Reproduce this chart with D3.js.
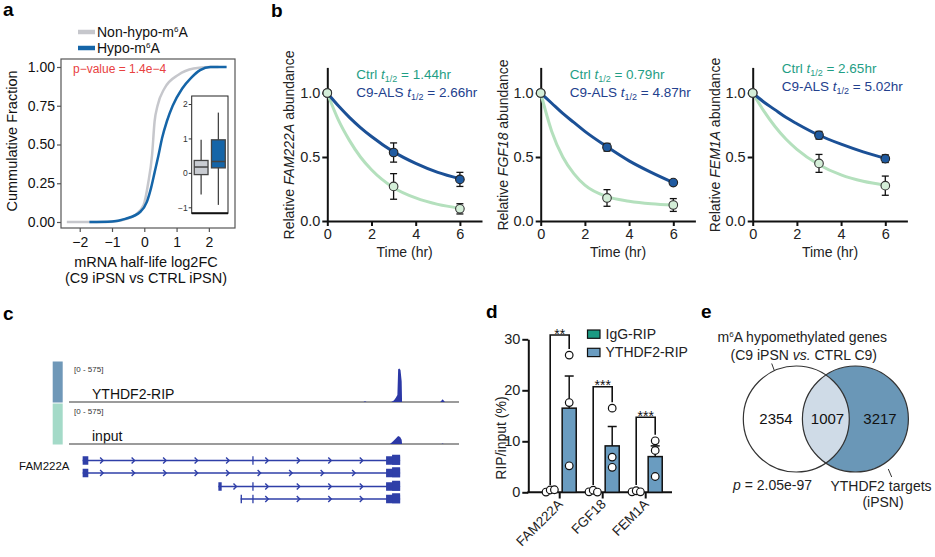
<!DOCTYPE html>
<html><head><meta charset="utf-8">
<script src="https://cdn.jsdelivr.net/npm/d3@7"></script>
<style>body{margin:0;background:#fff}svg{display:block}</style>
</head><body><svg id="c" width="935" height="557"></svg>
<script>
// ---------------- DATA ----------------
// panel a: cumulative distributions
const cdfNonHypoX = [-2.4, -1.2, -0.74, -0.28, -0.02, 0.12, 0.24, 0.32, 0.41, 0.62, 1.06, 1.53, 2.0, 2.3];
const cdfNonHypoF = [0, 0, 0.01, 0.045, 0.11, 0.25, 0.43, 0.65, 0.75, 0.86, 0.95, 0.99, 1.0, 1.0];
const cdfHypoX = [-1.7, -1.0, -0.59, -0.12, 0.08, 0.21, 0.32, 0.44, 0.55, 0.70, 0.88, 1.17, 1.45, 1.73, 2.05, 2.55];
const cdfHypoF = [0, 0.003, 0.02, 0.066, 0.13, 0.22, 0.32, 0.43, 0.54, 0.65, 0.75, 0.86, 0.93, 0.98, 1.0, 1.0];
const legendA = ["Non-hypo-m", "Hypo-m"];
const pValueA = "p\u2212value = 1.4e\u22124";
const boxGroups = ["Non-hypo", "Hypo"];
const boxNonHypo = [-0.63, -0.05, 0.17, 0.36, 0.96]; // min, q1, median, q3, max
const boxHypo = [-0.93, 0.145, 0.33, 0.96, 1.75];
const aTicksX = [-2, -1, 0, 1, 2];
const aTicksY = [0, 0.25, 0.5, 0.75, 1];
const insetTicks = [-1, 0, 1, 2];

// panel b: mRNA decay
const decayGenes = ["FAM222A", "FGF18", "FEM1A"];
const halfCtrl = ["1.44", "0.79", "2.65"];
const halfC9 = ["2.66", "4.87", "5.02"];
const sampleTimes = [0, 3, 6];
const ctrlMean = [[1, 0.27, 0.095], [1, 0.18, 0.125], [1, 0.45, 0.276]];
const ctrlErr = [[0, 0.10, 0.04], [0, 0.065, 0.05], [0, 0.07, 0.075]];
const c9Mean = [[1, 0.535, 0.325], [1, 0.576, 0.30], [1, 0.67, 0.487]];
const c9Err = [[0, 0.075, 0.055], [0, 0.03, 0.015], [0, 0.03, 0.03]];
const fitTimes = [0, 0.5, 1, 1.5, 2, 3, 4, 5, 6];
const ctrlFit = [
  [1, 0.79, 0.63, 0.50, 0.40, 0.26, 0.18, 0.13, 0.10],
  [1, 0.70, 0.50, 0.37, 0.28, 0.19, 0.155, 0.135, 0.125],
  [1, 0.86, 0.74, 0.64, 0.56, 0.44, 0.36, 0.31, 0.28]];
const c9Fit = [
  [1, 0.90, 0.81, 0.73, 0.66, 0.54, 0.45, 0.38, 0.33],
  [1, 0.92, 0.84, 0.77, 0.70, 0.58, 0.47, 0.38, 0.30],
  [1, 0.93, 0.87, 0.81, 0.76, 0.67, 0.60, 0.54, 0.49]];
const bTicksX = [0, 2, 4, 6];
const bTicksY = [0, 0.5, 1.0];

// panel c: coverage tracks (genomic position 0-1000, reads 0-575)
const trackNames = ["YTHDF2-RIP", "input"];
const trackRange = "[0 - 575]";
const ripPos = [0, 755, 759, 763, 826, 833, 838, 842, 844, 847, 850, 853, 854, 952, 958, 964, 1000];
const ripVal = [0, 0, 12, 0, 0, 20, 60, 100, 470, 480, 460, 300, 0, 0, 40, 0, 0];
const inputPos = [0, 823, 831, 838, 844, 849, 853, 854, 955, 958, 961, 1000];
const inputVal = [0, 0, 40, 80, 115, 100, 60, 0, 0, 8, 0, 0];
const geneName = "FAM222A";
const txStart = [35, 35, 383, 440];
const txEnd = [849, 849, 849, 849];
const txExons = [
  [[35, 49.5], [470, 473], [813, 849]],
  [[35, 49.5], [813, 849]],
  [[383, 391.5], [470, 473], [813, 849]],
  [[440, 443.5], [470, 473], [813, 849]]];

// panel d: RIP-qPCR
const ripGenes = ["FAM222A", "FGF18", "FEM1A"];
const ripConds = ["IgG-RIP", "YTHDF2-RIP"];
const igGMean = [0.3, 0.25, 0.2];
const igGDots = [[0.05, 0.45, 0.5], [0.1, 0.4, 0.05], [0.1, 0.3, 0.1]];
const ythMean = [16.5, 9.1, 7.0];
const ythSem = [6.3, 3.8, 2.1];
const ythDots = [[26.9, 17.6, 5.2], [16.5, 6.9, 4.9], [10.1, 8.2, 3.1]];
const sigLabels = ["**", "***", "***"];
const dTicksY = [0, 10, 20, 30];

// panel e: Venn
const vennCounts = [2354, 1007, 3217];
const vennP = "2.05e-97";

// ---------------- DRAW ----------------
const FONT = '"Liberation Sans", Arial, Helvetica, sans-serif';
const svg = d3.select("#c").attr("font-family", FONT);
svg.append("rect").attr("width", 935).attr("height", 557).attr("fill", "#fff");
const minus = d => (d < 0 ? "\u2212" + Math.abs(d) : String(d));

function panelLabel(t, x, y) {
  svg.append("text").attr("x", x).attr("y", y).attr("font-size", 19)
    .attr("font-weight", "bold").attr("fill", "#000").text(t);
}
panelLabel("a", 3, 16); panelLabel("b", 271, 17); panelLabel("c", 3, 320);
panelLabel("d", 486, 318); panelLabel("e", 701, 318);

// ===== Panel a =====
(function () {
  const g = svg.append("g");
  const x = d3.scaleLinear().domain([-2.58, 2.81]).range([61, 235]);
  const y = d3.scaleLinear().domain([0, 1]).range([222, 67]);
  g.append("rect").attr("x", 61).attr("y", 59).attr("width", 174).attr("height", 169)
    .attr("fill", "#fff").attr("stroke", "#555").attr("stroke-width", 1.2);
  const line = d3.line().x(d => x(d[0])).y(d => y(d[1])).curve(d3.curveMonotoneX);
  g.append("path").attr("d", line(d3.zip(cdfNonHypoX, cdfNonHypoF)))
    .attr("fill", "none").attr("stroke", "#c6c7cc").attr("stroke-width", 2.5);
  g.append("path").attr("d", line(d3.zip(cdfHypoX, cdfHypoF)))
    .attr("fill", "none").attr("stroke", "#1565a8").attr("stroke-width", 2.5);
  const ya = g.append("g").attr("transform", "translate(61,0)")
    .call(d3.axisLeft(y).tickValues(aTicksY).tickFormat(d3.format(".2f")).tickSize(4).tickSizeOuter(0));
  const xa = g.append("g").attr("transform", "translate(0,228)")
    .call(d3.axisBottom(x).tickValues(aTicksX).tickFormat(minus).tickSize(4).tickSizeOuter(0));
  [ya, xa].forEach(a => {
    a.select(".domain").remove();
    a.selectAll("line").attr("stroke", "#555").attr("stroke-width", 1.2);
    a.selectAll("text").attr("font-size", 14).attr("fill", "#111").attr("font-family", FONT);
  });
  ya.selectAll("text").attr("x", -6);
  xa.selectAll("text").attr("y", 9);
  g.append("text").attr("transform", "translate(17,141) rotate(-90)").attr("text-anchor", "middle")
    .attr("font-size", 14.5).attr("fill", "#111").text("Cummulative Fraction");
  g.append("text").attr("x", 146).attr("y", 267).attr("text-anchor", "middle")
    .attr("font-size", 14.5).attr("fill", "#111").text("mRNA half-life log2FC");
  g.append("text").attr("x", 146).attr("y", 283).attr("text-anchor", "middle")
    .attr("font-size", 14.5).attr("fill", "#111").text("(C9 iPSN vs CTRL iPSN)");
  g.append("text").attr("x", 73).attr("y", 73).attr("font-size", 12).attr("fill", "#e8413f").text(pValueA);
  const legCol = ["#c6c7cc", "#1565a8"];
  legendA.forEach((t, i) => {
    const yy = 32 + i * 16;
    g.append("line").attr("x1", 78).attr("x2", 95).attr("y1", yy).attr("y2", yy)
      .attr("stroke", legCol[i]).attr("stroke-width", 4.5);
    const tx = g.append("text").attr("x", 97).attr("y", yy + 5).attr("font-size", 14).attr("fill", "#111");
    tx.append("tspan").text(t);
    tx.append("tspan").attr("dy", -5).attr("font-size", 8).text("6");
    tx.append("tspan").attr("dy", 5).text("A");
  });
  // inset boxplot
  const iy = d3.scaleLinear().domain([-1, 2]).range([207.3, 104]);
  const ib = d3.scaleBand().domain(boxGroups).range([192.5, 227]).paddingInner(0.2).paddingOuter(0.1);
  g.append("rect").attr("x", 191.7).attr("y", 96).attr("width", 36.3).attr("height", 117.3)
    .attr("fill", "#fff").attr("stroke", "#222").attr("stroke-width", 1);
  g.append("line").attr("x1", 191.7).attr("x2", 228).attr("y1", 213.3).attr("y2", 213.3)
    .attr("stroke", "#111").attr("stroke-width", 2);
  const ia = g.append("g").attr("transform", "translate(191.7,0)")
    .call(d3.axisLeft(iy).tickValues(insetTicks).tickFormat(minus).tickSize(3).tickSizeOuter(0));
  ia.select(".domain").remove();
  ia.selectAll("line").attr("stroke", "#333");
  ia.selectAll("text").attr("font-size", 8.5).attr("fill", "#333").attr("font-family", FONT).attr("x", -4);
  const boxData = [boxNonHypo, boxHypo];
  const boxFill = ["#c9ccd2", "#1565a8"];
  boxGroups.forEach((k, i) => {
    const s = boxData[i], bx = ib(k), bw = ib.bandwidth(), cx = bx + bw / 2;
    g.append("line").attr("x1", cx).attr("x2", cx).attr("y1", iy(s[0])).attr("y2", iy(s[4]))
      .attr("stroke", "#444").attr("stroke-width", 1.3);
    g.append("rect").attr("x", bx).attr("y", iy(s[3])).attr("width", bw).attr("height", iy(s[1]) - iy(s[3]))
      .attr("fill", boxFill[i]).attr("stroke", "#444").attr("stroke-width", 1.3);
    g.append("line").attr("x1", bx).attr("x2", bx + bw).attr("y1", iy(s[2])).attr("y2", iy(s[2]))
      .attr("stroke", "#444").attr("stroke-width", 1.5);
  });
})();

// ===== Panel b =====
const ctrlTextCol = "#1f9e85", c9TextCol = "#22408d";
const axis0 = [327.3, 540.7, 752.7];
decayGenes.forEach((gene, i) => {
  const g = svg.append("g");
  const x0 = axis0[i];
  const x = d3.scaleLinear().domain([0, 7]).range([x0, x0 + 22.1 * 7]);
  const y = d3.scaleLinear().domain([0, 1.2]).range([221, 67.4]);
  const xa = g.append("g").attr("transform", "translate(0,221)")
    .call(d3.axisBottom(x).tickValues(bTicksX).tickFormat(d3.format("d")).tickSize(5).tickSizeOuter(0));
  const ya = g.append("g").attr("transform", `translate(${x0},0)`)
    .call(d3.axisLeft(y).tickValues(bTicksY).tickFormat(d3.format(".1f")).tickSize(5).tickSizeOuter(0));
  [xa, ya].forEach(a => {
    a.select(".domain").attr("stroke", "#111").attr("stroke-width", 2);
    a.selectAll("line").attr("stroke", "#111").attr("stroke-width", 2);
    a.selectAll("text").attr("font-size", 14.5).attr("fill", "#222").attr("font-family", FONT);
  });
  xa.selectAll("text").attr("y", 7.5);
  ya.selectAll("text").attr("x", -7);
  g.append("text").attr("x", x(3.5)).attr("y", 257).attr("text-anchor", "middle")
    .attr("font-size", 14).attr("fill", "#222").text("Time (hr)");
  const yl = g.append("text").attr("transform", `translate(${x0 - 33},145) rotate(-90)`)
    .attr("text-anchor", "middle").attr("font-size", 14).attr("fill", "#222");
  yl.append("tspan").text("Relative ");
  yl.append("tspan").attr("font-style", "italic").text(gene);
  yl.append("tspan").text(" abundance");
  const ln = d3.line().x(d => x(d[0])).y(d => y(d[1])).curve(d3.curveMonotoneX);
  g.append("path").attr("d", ln(d3.zip(fitTimes, ctrlFit[i]))).attr("fill", "none")
    .attr("stroke", "#b4e0bd").attr("stroke-width", 3);
  g.append("path").attr("d", ln(d3.zip(fitTimes, c9Fit[i]))).attr("fill", "none")
    .attr("stroke", "#1b5096").attr("stroke-width", 3);
  const drawErr = (m, e) => sampleTimes.forEach((t, j) => {
    if (e[j] <= 0) return;
    const cx = x(t);
    g.append("line").attr("x1", cx).attr("x2", cx).attr("y1", y(m[j] - e[j])).attr("y2", y(m[j] + e[j]))
      .attr("stroke", "#111").attr("stroke-width", 1.3);
    [m[j] - e[j], m[j] + e[j]].forEach(v => g.append("line").attr("x1", cx - 3.5).attr("x2", cx + 3.5)
      .attr("y1", y(v)).attr("y2", y(v)).attr("stroke", "#111").attr("stroke-width", 1.3));
  });
  drawErr(c9Mean[i], c9Err[i]); drawErr(ctrlMean[i], ctrlErr[i]);
  sampleTimes.forEach((t, j) => g.append("circle").attr("cx", x(t)).attr("cy", y(c9Mean[i][j])).attr("r", 4.3)
    .attr("fill", "#1f5aa0").attr("stroke", "#222").attr("stroke-width", 1.1));
  sampleTimes.forEach((t, j) => g.append("circle").attr("cx", x(t)).attr("cy", y(ctrlMean[i][j])).attr("r", 4.3)
    .attr("fill", "#d4eed8").attr("stroke", "#333").attr("stroke-width", 1.1));
  const ann = (label, val, col, yy) => {
    const t = g.append("text").attr("x", x0 + 29).attr("y", yy).attr("font-size", 13.5).attr("fill", col);
    t.append("tspan").text(label + " ");
    t.append("tspan").attr("font-style", "italic").text("t");
    t.append("tspan").attr("dy", 3).attr("font-size", 9).text("1/2");
    t.append("tspan").attr("dy", -3).text(" = " + val + "hr");
  };
  const yOff = i === 2 ? -6 : 0;
  ann("Ctrl", halfCtrl[i], ctrlTextCol, 79 + yOff);
  ann("C9-ALS", halfC9[i], c9TextCol, 97 + yOff);
});

// ===== Panel c =====
(function () {
  const g = svg.append("g");
  const gx = d3.scaleLinear().domain([0, 1000]).range([69, 459]);
  const tracks = [
    { name: trackNames[0], pos: ripPos, val: ripVal, base: 402, col: "#6f98b8" },
    { name: trackNames[1], pos: inputPos, val: inputVal, base: 444, col: "#a4dac8" }];
  tracks.forEach(tr => {
    const ty = d3.scaleLinear().domain([0, 575]).range([tr.base, tr.base - 40]);
    g.append("rect").attr("x", 52.7).attr("y", tr.base - 40.5).attr("width", 10).attr("height", 41)
      .attr("fill", tr.col);
    g.append("text").attr("x", 74).attr("y", tr.base - 30.5).attr("font-size", 8).attr("fill", "#333").text(trackRange);
    g.append("text").attr("x", 92).attr("y", tr.base - 3).attr("font-size", 14).attr("fill", "#111").text(tr.name);
    g.append("line").attr("x1", 69).attr("x2", 459).attr("y1", tr.base).attr("y2", tr.base)
      .attr("stroke", "#7a7a7a").attr("stroke-width", 1.5);
    const area = d3.area().x(d => gx(d[0])).y0(tr.base).y1(d => ty(d[1]));
    g.append("path").attr("d", area(d3.zip(tr.pos, tr.val))).attr("fill", "#2c38a6");
  });
  g.append("text").attr("x", 19).attr("y", 470).attr("font-size", 11.5).attr("fill", "#111").text(geneName);
  const gc = "#2f3fa8";
  const rowY = [460.5, 473, 486.5, 499];
  txStart.forEach((s, r) => {
    const yy = rowY[r];
    g.append("line").attr("x1", gx(s)).attr("x2", gx(txEnd[r])).attr("y1", yy).attr("y2", yy)
      .attr("stroke", gc).attr("stroke-width", 1.6);
    const ex = txExons[r];
    for (let e = 0; e < ex.length - 1; e++) {
      const a = gx(ex[e][1]), b = gx(ex[e + 1][0]);
      for (let p = a + 13.3; p < b - 8; p += 31.5) {
        g.append("path").attr("d", `M${p - 1.5},${yy - 3}L${p + 1.5},${yy}L${p - 1.5},${yy + 3}`)
          .attr("fill", "none").attr("stroke", gc).attr("stroke-width", 1.4);
      }
    }
    ex.forEach((e, j) => {
      const last = j === ex.length - 1;
      const h = 8.5;
      g.append("rect").attr("x", gx(e[0])).attr("y", yy - h / 2).attr("width", Math.max(1.3, gx(e[1]) - gx(e[0])))
        .attr("height", h).attr("fill", gc);
      if (last) {
        g.append("rect").attr("x", gx(e[0]) + 6).attr("y", yy - h / 2 - 1.5)
          .attr("width", gx(e[1]) - gx(e[0]) - 6).attr("height", h + 1.5).attr("fill", gc);
      }
    });
  });
})();

// ===== Panel d =====
(function () {
  const g = svg.append("g");
  const y = d3.scaleLinear().domain([0, 30]).range([492.3, 339.3]);
  const gxs = d3.scaleBand().domain(ripGenes).range([538.2, 667.2]);
  const sub = d3.scaleBand().domain(ripConds).range([gxs.bandwidth() / 2 - 19, gxs.bandwidth() / 2 + 19])
    .paddingInner(0.26).paddingOuter(0.13);
  const colIgG = "#1a9a82", colY = "#6a9cc0";
  const ya = g.append("g").attr("transform", "translate(528.3,0)")
    .call(d3.axisLeft(y).tickValues(dTicksY).tickSize(6).tickSizeOuter(0));
  ya.select(".domain").attr("stroke", "#111").attr("stroke-width", 2);
  ya.selectAll("line").attr("stroke", "#111").attr("stroke-width", 2);
  ya.selectAll("text").attr("font-size", 14.5).attr("fill", "#222").attr("font-family", FONT).attr("x", -8);
  g.append("line").attr("x1", 527.3).attr("x2", 672).attr("y1", 492.3).attr("y2", 492.3)
    .attr("stroke", "#111").attr("stroke-width", 2);
  g.append("text").attr("transform", "translate(506,438) rotate(-90)").attr("text-anchor", "middle")
    .attr("font-size", 14).attr("fill", "#222").text("RIP/input (%)");
  ripGenes.forEach((gn, i) => {
    const gc = gxs(gn) + gxs.bandwidth() / 2;
    g.append("line").attr("x1", gc).attr("x2", gc).attr("y1", 492.3).attr("y2", 498.5)
      .attr("stroke", "#111").attr("stroke-width", 2);
    g.append("text").attr("transform", `translate(${gc + 4},505) rotate(-45)`).attr("text-anchor", "end")
      .attr("font-size", 13.5).attr("fill", "#222").text(gn);
    const xi = gxs(gn) + sub("IgG-RIP"), xy = gxs(gn) + sub("YTHDF2-RIP"), bw = sub.bandwidth();
    g.append("rect").attr("x", xi).attr("y", y(igGMean[i])).attr("width", bw).attr("height", y(0) - y(igGMean[i]))
      .attr("fill", colIgG).attr("stroke", "#111").attr("stroke-width", 1.5);
    g.append("rect").attr("x", xy).attr("y", y(ythMean[i])).attr("width", bw).attr("height", y(0) - y(ythMean[i]))
      .attr("fill", colY).attr("stroke", "#111").attr("stroke-width", 1.5);
    const cy = xy + bw / 2, ci = xi + bw / 2;
    g.append("line").attr("x1", cy).attr("x2", cy).attr("y1", y(ythMean[i])).attr("y2", y(ythMean[i] + ythSem[i]))
      .attr("stroke", "#111").attr("stroke-width", 1.5);
    g.append("line").attr("x1", cy - 4.5).attr("x2", cy + 4.5).attr("y1", y(ythMean[i] + ythSem[i]))
      .attr("y2", y(ythMean[i] + ythSem[i])).attr("stroke", "#111").attr("stroke-width", 1.5);
    igGDots[i].forEach((v, j) => g.append("circle").attr("cx", ci + (j - 1) * 4.2).attr("cy", y(v)).attr("r", 3.8)
      .attr("fill", "#fff").attr("stroke", "#111").attr("stroke-width", 1.2));
    ythDots[i].forEach(v => g.append("circle").attr("cx", cy).attr("cy", y(v)).attr("r", 3.8)
      .attr("fill", "#fff").attr("stroke", "#111").attr("stroke-width", 1.2));
    const topY = [335, 386.7, 417.3][i];
    const rightBot = y(Math.max(...ythDots[i], ythMean[i] + ythSem[i])) - 6;
    g.append("path").attr("d", `M${ci},485 V${topY} H${cy} V${rightBot}`)
      .attr("fill", "none").attr("stroke", "#111").attr("stroke-width", 1.6);
    g.append("text").attr("x", (ci + cy) / 2).attr("y", topY + 3.5).attr("text-anchor", "middle")
      .attr("font-size", 14).attr("fill", "#111").text(sigLabels[i]);
  });
  const legCols = [colIgG, colY];
  ripConds.forEach((c, k) => {
    const yy = 330 + k * 18.3;
    g.append("rect").attr("x", 587.5).attr("y", yy).attr("width", 12.5).attr("height", 8.3)
      .attr("fill", legCols[k]).attr("stroke", "#111").attr("stroke-width", 1.2);
    g.append("text").attr("x", 605.5).attr("y", yy + 9).attr("font-size", 14).attr("fill", "#222").text(c);
  });
})();

// ===== Panel e =====
(function () {
  const g = svg.append("g");
  const r = 53, cy = 419, c1 = 796.3, c2 = 855.4;
  const defs = svg.append("defs");
  defs.append("clipPath").attr("id", "clipL").append("circle").attr("cx", c1).attr("cy", cy).attr("r", r);
  g.append("circle").attr("cx", c1).attr("cy", cy).attr("r", r).attr("fill", "#fff");
  g.append("circle").attr("cx", c2).attr("cy", cy).attr("r", r).attr("fill", "#6a97b7");
  g.append("circle").attr("cx", c2).attr("cy", cy).attr("r", r).attr("fill", "#cfdbe7").attr("clip-path", "url(#clipL)");
  [c1, c2].forEach(c => g.append("circle").attr("cx", c).attr("cy", cy).attr("r", r)
    .attr("fill", "none").attr("stroke", "#333").attr("stroke-width", 1.2));
  const nx = [776, 827.5, 880];
  vennCounts.forEach((v, i) => g.append("text").attr("x", nx[i]).attr("y", cy + 5).attr("text-anchor", "middle")
    .attr("font-size", 15).attr("fill", "#111").text(v));
  const t1 = g.append("text").attr("x", 887).attr("y", 342).attr("text-anchor", "end").attr("font-size", 14).attr("fill", "#222");
  t1.append("tspan").text("m");
  t1.append("tspan").attr("dy", -5).attr("font-size", 8).text("6");
  t1.append("tspan").attr("dy", 5).text("A hypomethylated genes");
  const t2 = g.append("text").attr("x", 877).attr("y", 360).attr("text-anchor", "end").attr("font-size", 14).attr("fill", "#222");
  t2.append("tspan").text("(C9 iPSN ");
  t2.append("tspan").attr("font-style", "italic").text("vs.");
  t2.append("tspan").text(" CTRL C9)");
  g.append("line").attr("x1", 771.7).attr("y1", 363.5).attr("x2", 774.5).attr("y2", 371)
    .attr("stroke", "#333").attr("stroke-width", 1);
  const tp = g.append("text").attr("x", 812).attr("y", 490).attr("text-anchor", "end").attr("font-size", 14).attr("fill", "#222");
  tp.append("tspan").attr("font-style", "italic").text("p");
  tp.append("tspan").text(" = " + vennP);
  g.append("line").attr("x1", 888.3).attr("y1", 469).attr("x2", 891.7).attr("y2", 477)
    .attr("stroke", "#333").attr("stroke-width", 1);
  g.append("text").attr("x", 881).attr("y", 491).attr("text-anchor", "middle").attr("font-size", 14)
    .attr("fill", "#222").text("YTHDF2 targets");
  g.append("text").attr("x", 883).attr("y", 507).attr("text-anchor", "middle").attr("font-size", 14)
    .attr("fill", "#222").text("(iPSN)");
})();
</script></body></html>
